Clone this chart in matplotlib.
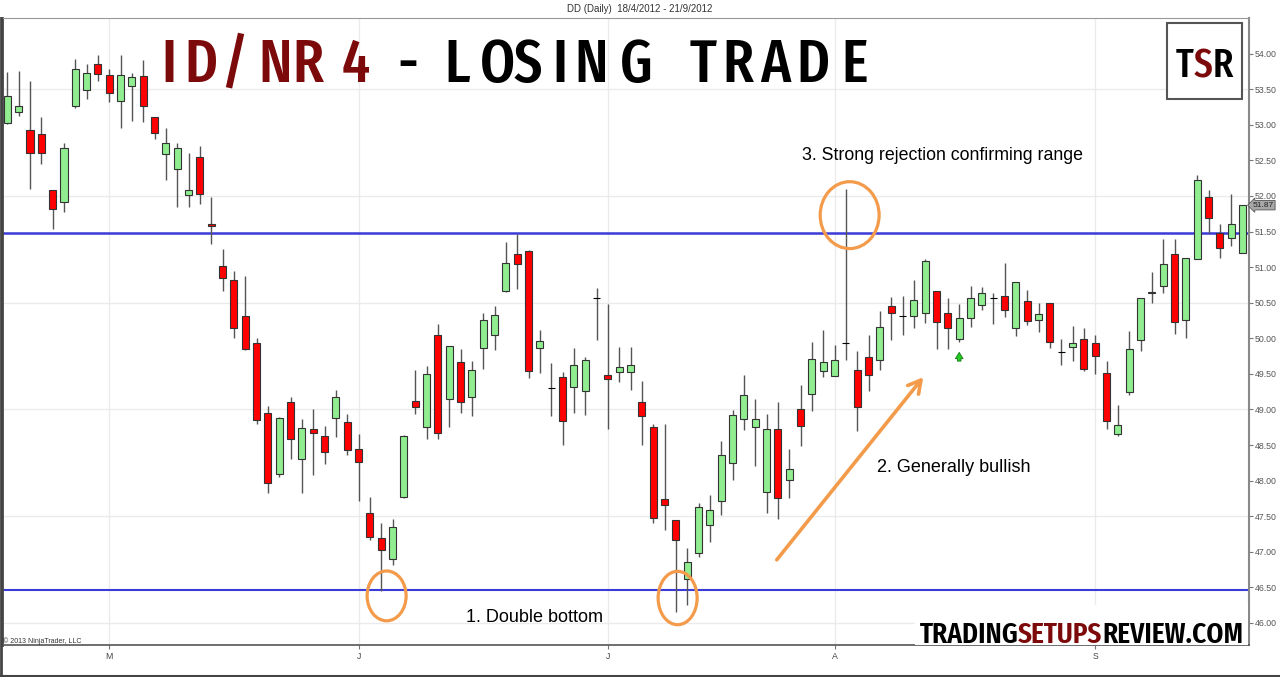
import matplotlib
matplotlib.use('Agg')
import matplotlib.pyplot as plt
from matplotlib import font_manager as fm
from matplotlib.patches import Ellipse, Rectangle
from matplotlib.lines import Line2D
import matplotlib.transforms as mtransforms

# DD daily bars, 18/4/2012 - 21/9/2012
opens = [53.02, 53.18, 52.93, 52.87, 52.08, 51.91, 53.27, 53.49, 53.86, 53.70,
         53.34, 53.54, 53.68, 53.11, 52.59, 52.38, 52.01, 52.55, 51.60, 51.02,
         50.82, 50.31, 49.93, 48.95, 48.09, 49.10, 48.30, 48.72, 48.63, 48.88,
         48.83, 48.45, 47.54, 47.20, 46.90, 47.77, 49.12, 48.76, 50.04, 49.14,
         49.66, 49.18, 49.87, 50.04, 50.66, 51.18, 51.22, 49.86, 49.30, 49.46,
         49.31, 49.26, 50.57, 49.49, 49.52, 49.52, 49.11, 48.75, 47.74, 47.45,
         46.62, 46.98, 47.38, 47.71, 48.25, 48.87, 48.76, 47.84, 48.72, 48.01,
         49.00, 49.22, 49.54, 49.47, 49.94, 49.56, 49.74, 49.70, 50.46, 50.31,
         50.31, 50.35, 50.67, 50.35, 49.99, 50.29, 50.47, 50.56, 50.59, 50.15,
         50.53, 50.25, 50.49, 49.81, 49.88, 49.99, 49.94, 49.51, 48.65, 49.25,
         49.97, 50.65, 50.74, 51.19, 50.26, 51.12, 51.99, 51.48, 51.41, 51.20]
highs = [53.74, 53.75, 53.62, 53.11, 52.08, 52.75, 53.92, 53.86, 53.98, 53.79,
         53.98, 53.73, 53.91, 53.11, 52.95, 52.74, 52.60, 52.70, 51.98, 51.26,
         50.95, 50.87, 50.00, 49.05, 48.90, 49.17, 48.87, 49.01, 48.77, 49.27,
         48.94, 48.65, 47.77, 47.41, 47.46, 48.64, 49.55, 49.61, 50.20, 49.89,
         49.85, 49.68, 50.35, 50.46, 51.35, 51.47, 51.24, 50.12, 49.65, 49.52,
         49.87, 49.74, 50.71, 50.48, 49.88, 49.88, 49.40, 48.80, 48.79, 47.45,
         47.05, 47.68, 47.80, 48.56, 48.99, 49.48, 49.15, 48.93, 49.11, 48.44,
         49.34, 49.95, 50.12, 49.90, 52.10, 49.82, 50.04, 50.39, 50.58, 50.60,
         50.82, 51.11, 50.67, 50.57, 50.48, 50.73, 50.72, 50.63, 51.06, 50.79,
         50.68, 50.50, 50.49, 49.99, 50.17, 50.15, 50.05, 49.68, 49.06, 50.10,
         50.57, 50.93, 51.40, 51.39, 51.13, 52.30, 52.08, 51.60, 52.02, 51.87]
lows = [53.01, 53.13, 52.10, 52.45, 51.54, 51.77, 53.23, 53.36, 53.62, 53.32,
        52.96, 53.05, 53.04, 52.80, 52.22, 51.85, 51.85, 51.89, 51.33, 50.66,
        50.01, 49.84, 48.80, 47.82, 48.05, 48.31, 47.82, 48.08, 48.23, 48.61,
        48.36, 47.72, 47.17, 46.45, 46.81, 47.75, 48.94, 48.59, 48.59, 48.76,
        48.95, 48.91, 49.57, 49.83, 50.65, 50.69, 49.44, 49.51, 48.91, 48.50,
        48.95, 48.92, 49.98, 48.73, 49.39, 49.27, 48.50, 47.41, 47.30, 46.16,
        46.25, 46.92, 47.14, 47.52, 48.01, 48.71, 48.20, 47.54, 47.46, 47.75,
        48.48, 48.98, 49.46, 49.47, 49.70, 48.69, 49.26, 49.55, 49.98, 50.05,
        50.14, 50.22, 49.85, 49.85, 49.95, 50.16, 50.40, 50.20, 50.30, 50.03,
        50.19, 50.09, 49.86, 49.63, 49.68, 49.54, 49.50, 48.73, 48.63, 49.20,
        49.82, 50.49, 50.63, 50.06, 50.00, 51.12, 51.48, 51.13, 51.29, 51.20]
closes = [53.40, 53.26, 52.60, 52.61, 51.82, 52.67, 53.79, 53.73, 53.71, 53.45,
          53.70, 53.67, 53.26, 52.89, 52.74, 52.67, 52.08, 52.02, 51.58, 50.84,
          50.15, 49.85, 48.85, 47.97, 48.88, 48.58, 48.74, 48.67, 48.40, 49.17,
          48.43, 48.26, 47.21, 47.02, 47.35, 48.63, 49.04, 49.50, 48.67, 49.89,
          49.11, 49.55, 50.25, 50.32, 51.06, 51.05, 49.54, 49.96, 49.30, 48.84,
          49.63, 49.69, 50.57, 49.43, 49.59, 49.62, 48.91, 47.48, 47.66, 47.16,
          46.86, 47.63, 47.59, 48.36, 48.92, 49.20, 48.87, 48.72, 47.75, 48.16,
          48.77, 49.71, 49.67, 49.70, 49.94, 49.03, 49.48, 50.16, 50.36, 50.31,
          50.54, 51.08, 50.23, 50.14, 50.28, 50.57, 50.64, 50.56, 50.40, 50.79,
          50.24, 50.34, 49.95, 49.81, 49.94, 49.57, 49.75, 48.84, 48.78, 49.85,
          50.57, 50.63, 51.05, 50.23, 51.13, 52.23, 51.69, 51.27, 51.61, 51.87]

month_bars = [9, 31, 53, 73, 96]
month_labels = ['M', 'J', 'J', 'A', 'S']
range_levels = [51.48, 46.46]
signal_bar = 84


def find_narrow_font(want_weight):
    # look for any installed condensed / narrow sans face
    best, best_key = None, None
    for f in fm.fontManager.ttflist:
        fn = f.fname.lower().replace('-', '').replace('_', '')
        nm = f.name.lower()
        if 'mono' in fn or 'cjk' in fn or ('serif' in nm and 'sans' not in nm):
            continue
        if f.style != 'normal':
            continue
        if 'extracondensed' in fn or 'extra condensed' in nm:
            rank = 0
        elif 'semicondensed' in fn or 'semi condensed' in nm:
            rank = 2
        elif 'condensed' in fn or 'condensed' in nm:
            rank = 1
        elif 'narrow' in fn or 'narrow' in nm:
            rank = 3
        else:
            continue
        try:
            w = int(f.weight)
        except (TypeError, ValueError):
            w = 700 if 'bold' in str(f.weight) else 400
        key = (rank, abs(w - want_weight))
        if best_key is None or key < best_key:
            best, best_key = f.fname, key
    return best


fonts = {'title': find_narrow_font(520), 'logo': find_narrow_font(560)}


def logo_font(size, kind='logo'):
    if fonts[kind]:
        return fm.FontProperties(fname=fonts[kind], size=size)
    return fm.FontProperties(family='DejaVu Sans', weight='bold', size=size)


W, H = 1280, 677
fig = plt.figure(figsize=(12.8, 6.77), dpi=100)
fig.patch.set_facecolor('white')
ax = fig.add_axes([2 / W, 1 - 645 / H, 1247 / W, 627 / H])
ax.set_xlim(-0.47, 109.57)
ax.set_ylim(45.69, 54.50)

# grid
for lvl in [46.0, 47.5, 49.0, 50.5, 52.0, 53.5]:
    ax.axhline(lvl, color='#ebebeb', lw=1, zorder=0)
for b in month_bars:
    ax.axvline(b, color='#ebebeb', lw=1, zorder=0)

# range lines
ax.axhline(range_levels[0], color='#3b3bd8', lw=1.8, zorder=1)
ax.axhline(range_levels[1], color='#3b3bd8', lw=1.5, zorder=1)

# candles
xs = list(range(len(closes)))
ax.vlines(xs, lows, highs, color='#555555', lw=1, zorder=2)
for i in xs:
    o, c = opens[i], closes[i]
    if c > o:
        fc = '#90ee90'
    elif c < o:
        fc = '#ff0000'
    else:
        fc = '#000000'
    ax.bar(i, abs(c - o), bottom=min(o, c), width=0.62, color=fc,
           edgecolor='#333333' if c != o else '#000000', lw=0.8, zorder=3)

# signal arrow
ax.annotate('', xy=(signal_bar, lows[signal_bar] - 0.11),
            xytext=(signal_bar, lows[signal_bar] - 0.31),
            arrowprops=dict(arrowstyle='simple,head_length=0.45,head_width=0.55,tail_width=0.25',
                            fc='#22cc22', ec='#117711', lw=0.6), zorder=4)

# orange circles
orange = '#f39b4b'
for cx, cy, w, h in [(33.47, 46.38, 3.44, 0.70), (59.15, 46.35, 3.44, 0.75),
                     (74.33, 51.73, 5.2, 0.94)]:
    ax.add_patch(Ellipse((cx, cy), w, h, fill=False, ec=orange, lw=2.3, zorder=5))

# axis styling
ax.yaxis.tick_right()
ax.set_yticks([46 + 0.5 * k for k in range(17)])
ax.set_yticklabels(['%.2f' % (46 + 0.5 * k) for k in range(17)],
                   fontsize=6.3, color='#555555', family='Liberation Sans')
ax.tick_params(axis='y', length=3, width=0.8, color='#777777', pad=1)
ax.set_xticks(month_bars)
ax.set_xticklabels(month_labels, fontsize=6.3, color='#444444', family='Liberation Sans')
ax.tick_params(axis='x', length=3, width=0.8, color='#777777', pad=2)
ax.spines['right'].set_color('#888888')
ax.spines['right'].set_linewidth(1.5)
ax.spines['top'].set_color('#999999')
ax.spines['top'].set_linewidth(0.8)
ax.spines['left'].set_color('#444444')
ax.spines['left'].set_linewidth(2)
ax.spines['bottom'].set_color('#555555')
ax.spines['bottom'].set_linewidth(1.2)

# last price tag
tr = mtransforms.blended_transform_factory(ax.transAxes, ax.transData)
ax.text(1.003, closes[-1], '%.2f' % closes[-1], transform=tr, fontsize=6, color='#222222',
        va='center', ha='left', family='Liberation Sans',
        bbox=dict(boxstyle='larrow,pad=0.15', fc='#a8a8a8', ec='#555555', lw=0.6))

# frame lines outside the axes
fig.add_artist(Line2D([0.5 / W, 0.5 / W], [0, 1 - 18 / H], color='#444444', lw=2))
fig.add_artist(Line2D([0, 1], [1 / H, 1 / H], color='#444444', lw=1.5))

# header
fig.text(640 / W, 1 - 9 / H, 'DD (Daily)  18/4/2012 - 21/9/2012', ha='center', va='center',
         fontsize=7, color='#333333', family='Liberation Sans')
fig.text(3 / W, 1 - 641 / H, '\u00a9 2013 NinjaTrader, LLC', ha='left', va='center',
         fontsize=5, color='#333333', family='Liberation Sans')

renderer = fig.canvas.get_renderer()

# big title, letter by letter (centres and glyph widths in pixels)
dark_red = '#7d0a0a'
letters = [('I', 168.5, 7, dark_red), ('D', 201, 18, dark_red), ('/', 234, 18, dark_red),
           ('N', 275, 20, dark_red), ('R', 308, 20, dark_red), ('4', 356, 23, dark_red),
           ('-', 408, 10, 'black'), ('L', 457, 19, 'black'), ('O', 497.5, 21, 'black'),
           ('S', 528, 20, 'black'), ('I', 560, 7, 'black'), ('N', 591.5, 23, 'black'),
           ('G', 636, 22, 'black'), ('T', 702.5, 21, 'black'), ('R', 738, 20, 'black'),
           ('A', 775, 24, 'black'), ('D', 812.5, 21, 'black'), ('E', 855, 16, 'black')]
size0 = 44
title_texts = []
for ch, x, gw, col in letters:
    t = fig.text(x / W, 1 - 82 / H, ch, ha='center', va='baseline', color=col,
                 fontproperties=logo_font(size0, 'title'))
    title_texts.append(t)
measured = sum(t.get_window_extent(renderer).width for t in title_texts)
target = sum(l[2] for l in letters) + 2 * len(letters)
if measured > 1.5 * target:
    s = size0 * 1.4 * target / measured
    for t in title_texts:
        t.set_fontproperties(logo_font(s, 'title'))

# TSR logo
fig.patches.append(Rectangle((1167 / W, 1 - 99 / H), 75 / W, 76 / H, transform=fig.transFigure,
                             fc='white', ec='#555555', lw=1.5, zorder=6))


def place_run(pieces, x0, x1, y, size_max, kind):
    # put coloured pieces side by side so that together they span x0..x1
    size = size_max
    texts = [fig.text(0, 1 - y / H, txt, ha='left', va='baseline', color=col, zorder=7,
                      fontproperties=logo_font(size, kind)) for txt, col in pieces]
    total = sum(t.get_window_extent(renderer).width for t in texts)
    size = min(size_max, size * (x1 - x0) / total)
    for t in texts:
        t.set_fontproperties(logo_font(size, kind))
    widths = [t.get_window_extent(renderer).width for t in texts]
    x = x0 + ((x1 - x0) - sum(widths)) / 2
    for t, w in zip(texts, widths):
        t.set_x(x / W)
        x += w


place_run([('T', 'black'), ('S', dark_red), ('R', 'black')], 1176, 1233, 77, 32, 'title')

# site logo
fig.patches.append(Rectangle((915 / W, 1 - 645 / H), 333 / W, 40 / H, transform=fig.transFigure,
                             fc='white', ec='none', zorder=6))
place_run([('TRADING', 'black'), ('SETUPS', dark_red), ('REVIEW.COM', 'black')],
          920, 1243, 643, 28, 'logo')

# annotations
ann_font = ['Liberation Sans', 'DejaVu Sans']
fig.text(534 / W, 1 - 618 / H, '1. Double bottom', ha='center', va='center',
         fontsize=13, family=ann_font)
fig.text(954 / W, 1 - 468 / H, '2. Generally bullish', ha='center', va='center',
         fontsize=13, family=ann_font)
fig.text(942 / W, 1 - 156 / H, '3. Strong rejection confirming range', ha='center',
         va='center', fontsize=12.8, family=ann_font)
ax.annotate('', xy=(925, H - 375), xytext=(775, H - 562), xycoords='figure pixels',
            textcoords='figure pixels',
            arrowprops=dict(arrowstyle='->,head_length=0.9,head_width=0.5', color=orange, lw=2.6))

fig.savefig('out.png', dpi=100)
